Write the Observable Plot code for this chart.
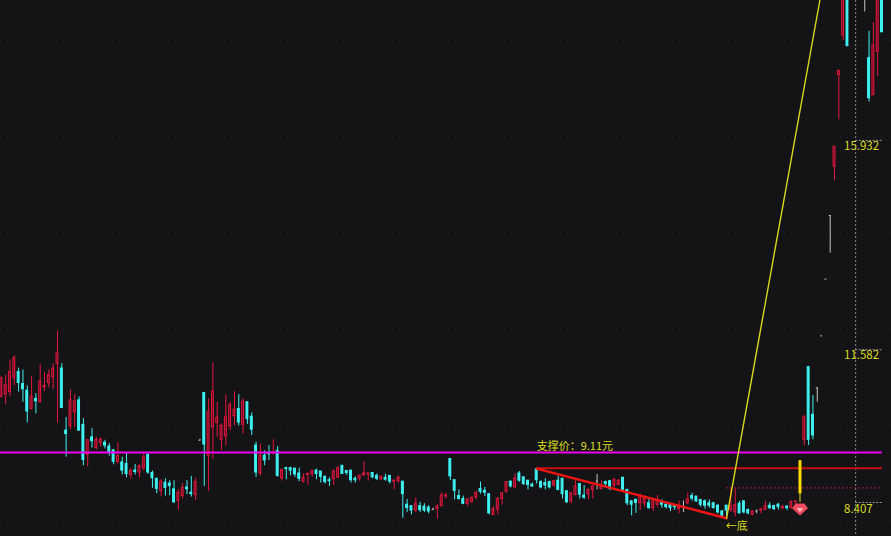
<!DOCTYPE html>
<html>
<head>
<meta charset="utf-8">
<script src="https://cdn.jsdelivr.net/npm/d3@7"></script>
<script src="https://cdn.jsdelivr.net/npm/@observablehq/plot@0.6"></script>
<style>html,body{margin:0;padding:0;background:#141416;overflow:hidden}svg{display:block}</style>
</head>
<body>
<div id="chart"></div>
<script>
// r = up (hollow red), c = down (filled cyan), g = flat (grey, open equals close)
const direction = "rrrrcccrcr" + "rrrrccrrcc" + "rcrrcccrcc" + "rcrrcccrcc" + "crrccrgcrr" +
  "rrrrrcrccc" + "rccrcrcccc" + "rrrccccrrc" + "cccrrrccrc" + "crrcccrccc" +
  "grrrccccrr" + "rcccrrrrcr" + "ccccccccrc" + "ccrrccrrgr" + "ccrrccccrr" +
  "crrccccrgr" + "cccccccccr" + "rcccrgrrcc" + "crcrrrrccg" + "gggrrrcggg" + "gcrrc";
const high = [11.00,11.05,11.37,11.46,11.20,11.16,10.83,11.03,10.67,11.28,11.11,11.16,11.29,11.96,11.29,10.17,10.75,10.65,10.60,10.15,
  9.71,9.94,9.76,9.75,9.70,9.63,9.50,9.65,9.35,9.43,9.11,9.20,9.19,9.42,9.40,9.06,8.90,8.88,8.90,8.86,
  8.86,8.67,8.80,8.86,8.95,8.91,9.72,10.68,10.56,11.31,10.49,10.04,10.63,10.49,10.71,10.65,10.56,10.49,10.27,9.66,
  9.62,9.48,9.59,9.71,9.57,9.10,9.14,9.14,9.12,9.12,9.00,9.02,9.08,9.10,9.05,8.96,8.92,9.08,9.15,9.17,
  9.06,9.07,8.94,8.98,9.26,9.01,9.02,9.00,8.96,8.99,8.96,8.87,8.96,8.84,8.47,8.34,8.50,8.41,8.38,8.34,
  8.29,8.36,8.61,8.60,9.31,8.87,8.67,8.54,8.49,8.53,8.65,8.83,8.72,8.58,8.32,8.51,8.62,8.84,8.85,9.00,
  9.05,8.93,8.86,8.81,9.10,8.86,8.90,8.85,8.86,8.96,8.90,8.65,8.62,8.86,8.79,8.76,8.69,8.76,8.99,8.86,
  8.85,8.86,8.90,8.88,8.93,8.67,8.44,8.48,8.58,8.55,8.48,8.47,8.55,8.46,8.41,8.38,8.36,8.44,8.44,8.60,
  8.60,8.53,8.46,8.46,8.46,8.41,8.36,8.24,8.35,8.71,8.69,8.43,8.44,8.27,8.24,8.25,8.29,8.43,8.40,8.35,
  8.39,8.35,8.34,8.44,8.44,8.36,10.19,11.22,10.63,10.79,11.87,13.05,14.37,15.80,17.38,19.90,20.00,21.00,21.50,20.50,
  19.20,18.20,18.38,19.50,19.80];
const bodyTop = [11.00,10.85,11.12,11.41,11.12,10.87,10.73,10.61,10.56,10.92,10.83,11.05,11.19,11.52,11.19,9.90,10.53,10.51,10.53,10.02,
  9.70,9.76,9.71,9.71,9.65,9.57,9.49,9.37,9.24,9.21,9.06,9.07,9.16,9.34,9.40,9.02,8.90,8.84,8.82,8.80,
  8.68,8.61,8.71,8.72,8.61,8.83,9.70,10.68,10.28,10.71,10.17,10.00,10.19,10.43,10.33,10.35,10.50,10.49,10.19,9.59,
  9.38,9.38,9.43,9.45,9.48,9.08,9.12,9.12,9.11,9.01,8.92,9.00,9.06,9.07,9.05,8.94,8.87,9.05,9.12,9.17,
  9.06,9.07,8.90,8.96,9.01,9.01,9.02,8.96,8.94,8.92,8.96,8.86,8.92,8.84,8.36,8.33,8.38,8.33,8.32,8.30,
  8.26,8.32,8.55,8.55,9.31,8.87,8.54,8.48,8.47,8.50,8.60,8.69,8.65,8.58,8.27,8.48,8.60,8.83,8.84,8.90,
  9.01,8.93,8.86,8.78,9.10,8.83,8.81,8.83,8.85,8.86,8.90,8.64,8.60,8.74,8.79,8.55,8.67,8.74,8.85,8.76,
  8.83,8.85,8.88,8.86,8.92,8.67,8.43,8.46,8.55,8.48,8.39,8.43,8.44,8.41,8.36,8.36,8.35,8.34,8.32,8.47,
  8.54,8.53,8.46,8.43,8.39,8.39,8.34,8.22,8.34,8.33,8.35,8.38,8.43,8.25,8.22,8.23,8.26,8.33,8.34,8.33,
  8.36,8.31,8.32,8.42,8.43,8.33,10.19,11.22,10.23,10.79,11.87,13.05,14.37,15.80,17.38,19.60,19.80,20.80,21.30,20.30,
  19.00,17.64,17.90,19.30,19.60];
const bodyBottom = [10.60,10.65,10.70,10.99,10.89,10.76,10.30,10.35,10.51,10.49,10.80,10.89,11.01,11.29,10.37,9.83,9.99,10.28,9.90,9.29,
  9.40,9.68,9.54,9.64,9.59,9.44,9.25,9.25,9.07,9.00,8.98,9.04,9.03,9.12,9.03,8.91,8.69,8.65,8.71,8.75,
  8.41,8.44,8.54,8.68,8.58,8.56,9.70,9.61,9.38,9.97,10.06,9.71,9.78,9.99,10.20,10.07,10.02,10.14,9.92,9.03,
  9.01,9.28,9.41,9.43,8.96,8.91,9.10,9.07,8.99,8.90,8.84,8.98,9.00,9.00,8.94,8.83,8.85,8.89,8.93,9.00,
  9.02,8.87,8.87,8.90,8.97,8.99,8.93,8.90,8.89,8.88,8.84,8.84,8.85,8.58,8.29,8.24,8.24,8.25,8.24,8.22,
  8.26,8.27,8.33,8.53,8.95,8.65,8.48,8.38,8.38,8.42,8.51,8.63,8.61,8.18,8.15,8.26,8.48,8.63,8.74,8.72,
  8.86,8.79,8.77,8.74,8.87,8.72,8.76,8.72,8.76,8.67,8.58,8.41,8.43,8.56,8.57,8.51,8.58,8.67,8.85,8.69,
  8.79,8.69,8.76,8.77,8.67,8.39,8.36,8.40,8.39,8.39,8.29,8.29,8.36,8.36,8.31,8.29,8.31,8.27,8.32,8.39,
  8.49,8.43,8.36,8.34,8.34,8.29,8.20,8.13,8.24,8.25,8.20,8.18,8.20,8.18,8.15,8.23,8.24,8.25,8.29,8.27,
  8.31,8.29,8.29,8.29,8.42,8.27,9.71,9.71,9.80,10.79,11.87,13.05,14.37,15.39,17.29,18.11,17.89,20.00,20.50,19.60,
  19.00,16.81,16.87,17.77,18.18];
const low = [10.60,10.44,10.61,10.83,10.70,10.49,10.06,10.33,10.25,10.48,10.71,10.79,10.75,10.06,10.36,9.35,9.92,9.97,9.90,9.17,
  9.14,9.54,9.50,9.56,9.52,9.37,9.19,9.21,8.98,8.92,8.89,8.98,8.92,9.06,8.99,8.70,8.59,8.52,8.54,8.55,
  8.39,8.25,8.48,8.57,8.52,8.45,9.69,8.74,8.64,9.30,9.76,9.49,9.59,9.90,10.00,10.00,9.83,10.03,9.80,8.93,
  8.96,9.17,9.28,9.39,8.93,8.85,8.88,8.96,8.93,8.84,8.81,8.76,8.93,8.88,8.81,8.79,8.74,8.76,8.90,8.99,
  8.97,8.81,8.81,8.85,8.96,8.85,8.90,8.86,8.86,8.85,8.79,8.67,8.81,8.08,8.20,8.15,8.20,8.20,8.20,8.17,
  8.24,8.06,8.32,8.48,8.86,8.46,8.46,8.36,8.32,8.39,8.46,8.58,8.53,8.15,8.13,8.15,8.36,8.60,8.71,8.70,
  8.83,8.76,8.67,8.72,8.79,8.69,8.67,8.69,8.72,8.65,8.48,8.39,8.38,8.55,8.48,8.47,8.46,8.48,8.67,8.67,
  8.71,8.65,8.71,8.76,8.65,8.34,8.13,8.18,8.24,8.31,8.27,8.22,8.31,8.29,8.27,8.22,8.24,8.17,8.20,8.36,
  8.44,8.41,8.31,8.27,8.29,8.27,8.17,8.10,8.11,8.20,8.11,8.17,8.17,8.15,8.13,8.17,8.17,8.24,8.26,8.24,
  8.25,8.25,8.24,8.27,8.34,8.22,9.59,9.59,9.71,10.49,11.87,13.05,13.59,15.10,16.36,18.01,17.89,20.00,20.50,19.60,
  18.60,16.73,16.87,17.26,18.17];

const gridLevels = [8, 10, 12, 14, 16, 18];
const axisLevels = [15.932, 11.582, 8.407];
const axisLabelPrices = [15.80, 11.46, 8.27];
const axisLabels = ["15.932", "11.582", "8.407"];
const pressureLevel = 9.447;
const supportLevel = 9.12;
const upperDottedLevel = 8.71;
const trendDays = [124, 168];
const trendPrices = [9.11, 8.08];
const riseDays = [168, 189.6];
const risePrices = [8.08, 18.84];
const signalDay = 185;
const signalBar = [9.276, 8.583];
const signalStem = [8.583, 8.41];
const gemPrice = 8.27;

const candles = Array.from(direction, (d, i) => ({
  i, d, high: high[i], low: low[i], top: bodyTop[i], bottom: bodyBottom[i]
}));
const colorOf = d => d === "r" ? "#e3173e" : d === "c" ? "#3ff2f2" : "#c4c4c4";
const halfWidth = 0.22;

const gemOuter = {draw(c, size) {
  const s = Math.sqrt(size / Math.PI);
  c.moveTo(-s * .55, -s * .7); c.lineTo(s * .55, -s * .7); c.lineTo(s, -s * .1);
  c.lineTo(0, s * .8); c.lineTo(-s, -s * .1); c.closePath();
}};
const gemInner = {draw(c, size) {
  const s = Math.sqrt(size / Math.PI);
  c.moveTo(-s, -s * .3); c.lineTo(s, -s * .3); c.lineTo(0, s * .9); c.closePath();
}};

const yellow = "#dcdc1e";
const font = '"Noto Sans CJK SC", "Noto Sans", sans-serif';

const chart = Plot.plot({
  width: 891, height: 536,
  marginTop: 0, marginRight: 0, marginBottom: 0, marginLeft: 0,
  style: {background: "#141416"},
  x: {type: "linear", domain: [-0.2, 206.2], range: [0, 891], axis: null},
  y: {type: "linear", domain: [7.70, 18.84], range: [536, 0], axis: null},
  marks: [
    Plot.ruleY(gridLevels, {y: d => d, stroke: "#2b2b2e", strokeDasharray: "1,6"}),
    Plot.ruleX(candles, {clip: true, x: "i", y1: "low", y2: "high", stroke: d => colorOf(d.d), strokeWidth: 1}),
    Plot.rect(candles.filter(d => d.d !== "g"), {
      clip: true,
      x1: d => d.i - halfWidth, x2: d => d.i + halfWidth,
      y1: "bottom", y2: "top",
      fill: d => d.d === "r" ? "#5c0f20" : colorOf(d.d),
      stroke: d => colorOf(d.d), strokeWidth: 1
    }),
    Plot.ruleY(candles.filter(d => d.d === "g"), {
      clip: true,
      x1: d => d.i - halfWidth, x2: d => d.i + halfWidth, y: "top", stroke: d => colorOf(d.d)
    }),
    Plot.ruleX([197.9], {x: d => d, stroke: "#8a8a8a", strokeDasharray: "2,2"}),
    Plot.ruleY(axisLevels, {y: d => d, x1: 197.9, x2: 204.1, stroke: "#9a9a9a", strokeDasharray: "2,1.5"}),
    Plot.ruleY([pressureLevel], {y: d => d, x1: -0.2, x2: 204.1, stroke: "#f000f0", strokeWidth: 2}),
    Plot.ruleY([supportLevel], {y: d => d, x1: trendDays[0], x2: 204.1, stroke: "#c80f0f", strokeWidth: 2}),
    Plot.ruleY([upperDottedLevel], {y: d => d, x1: trendDays[1], x2: 204.1, stroke: "#b01858", strokeDasharray: "2,2"}),
    Plot.line(trendDays.map((d, k) => ({d, p: trendPrices[k]})), {x: "d", y: "p", stroke: "#f01414", strokeWidth: 2.4}),
    Plot.line(riseDays.map((d, k) => ({d, p: risePrices[k]})), {clip: true, x: "d", y: "p", stroke: "#d8d81c", strokeWidth: 1.4}),
    Plot.ruleX([signalDay], {x: d => d, y1: signalStem[0], y2: signalStem[1], stroke: "#e8e030", strokeWidth: 1}),
    Plot.ruleX([signalDay], {x: d => d, y1: signalBar[0], y2: signalBar[1], stroke: "#ffdc00", strokeWidth: 3}),
    Plot.dot([gemPrice], {x: () => signalDay, y: d => d, symbol: gemOuter, r: 8, fill: "#f04a5e", stroke: "none"}),
    Plot.dot([gemPrice], {x: () => signalDay, y: d => d, symbol: gemInner, r: 3.5, fill: "#ffb4b4", stroke: "none"}),
    Plot.text(axisLabels, {
      x: () => 195.2, y: (d, k) => axisLabelPrices[k], text: d => d,
      fill: yellow, fontSize: 11.5, fontFamily: font, textAnchor: "start"
    }),
    Plot.text(["支撑价：9.11元"], {
      x: () => 124, y: () => 9.57, text: d => d,
      fill: yellow, fontSize: 11, fontFamily: font, textAnchor: "start"
    }),
    Plot.text(["←底"], {
      x: () => 167.8, y: () => 7.90, text: d => d,
      fill: yellow, fontSize: 11, fontFamily: font, textAnchor: "start"
    })
  ]
});
document.getElementById("chart").appendChild(chart);
</script>
</body>
</html>
